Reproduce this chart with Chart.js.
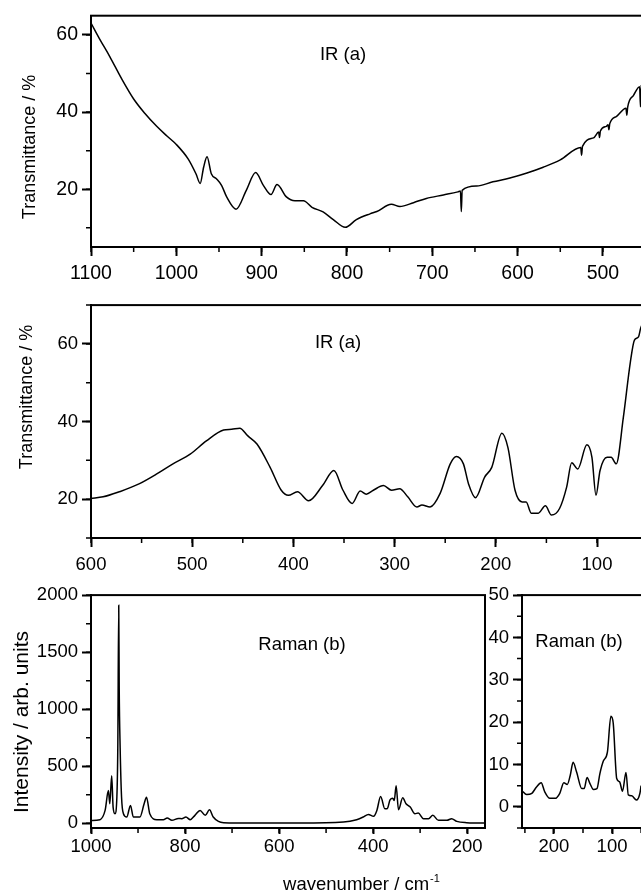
<!DOCTYPE html>
<html>
<head>
<meta charset="utf-8">
<script src="https://cdn.jsdelivr.net/npm/chart.js@4/dist/chart.umd.min.js"></script>
<style>
  html, body { margin: 0; padding: 0; background: #fff; overflow: hidden; }
  #page { position: relative; width: 641px; height: 894px; overflow: hidden; background: #fff; }
  #page canvas { position: absolute; }
</style>
</head>
<body>
<div id="page">
  <canvas id="irHigh" width="660" height="290" style="left:0;top:0"></canvas>
  <canvas id="irLow" width="660" height="290" style="left:0;top:290px"></canvas>
  <canvas id="ramanWide" width="500" height="314" style="left:0;top:580px"></canvas>
  <canvas id="ramanLow" width="180" height="314" style="left:470px;top:580px"></canvas>
</div>
<script>
// IR spectrum, 1100 - 455 cm-1
const irHighX = [1100, 1090, 1078, 1064, 1050, 1037, 1023, 1011, 1000, 986, 977, 972, 968, 964, 959, 953, 947, 941, 930, 918,
  907, 898, 889, 882, 871, 861, 851, 841, 828, 816, 802, 789, 773, 765, 748, 738, 722, 707, 687, 670,
  667, 666, 665, 648, 629, 609, 589, 570, 550, 526, 525, 524, 511, 505, 504, 503, 496, 494, 493, 492,
  484, 473, 472, 471, 464, 457, 456, 455];
const irHighY = [63.1, 59.0, 54.4, 48.6, 43.4, 39.7, 36.3, 33.8, 31.6, 27.8, 24.0, 21.5, 25.7, 28.4, 24.0, 22.7, 21.0, 18.0, 14.8, 19.7,
  24.3, 21.0, 18.6, 21.2, 18.0, 17.0, 17.0, 15.3, 14.1, 12.1, 10.1, 12.1, 13.6, 14.2, 16.1, 15.5, 16.5, 17.6, 18.5, 19.3,
  19.5, 14.2, 19.7, 20.8, 21.9, 22.9, 24.2, 25.7, 27.6, 30.8, 28.8, 31.1, 33.3, 34.8, 33.4, 35.1, 36.3, 36.7, 35.4, 37.0,
  38.9, 41.0, 39.2, 41.3, 44.4, 46.6, 41.4, 47.0];

// IR spectrum, 600 - 54 cm-1
const irLowX = [600, 588, 571, 560, 552, 535, 519, 502, 486, 469, 461, 453, 445, 436, 423, 412, 405, 396, 385, 371,
  360, 351, 342, 334, 328, 321, 311, 303, 295, 287, 278, 273, 265, 255, 245, 239, 232, 227, 220, 211,
  204, 194, 188, 181, 174, 170, 165, 158, 151, 145, 137, 130, 125, 119, 110, 105, 101, 97, 90, 86,
  81, 74, 67, 63, 59, 57, 54];
const irLowY = [20.2, 20.6, 22.0, 23.1, 24.0, 26.5, 29.1, 31.6, 35.0, 37.8, 38.0, 38.3, 36.3, 34.2, 28.2, 22.3, 21.0, 21.9, 19.6, 23.6,
  27.4, 22.3, 18.9, 22.1, 21.3, 22.3, 23.5, 22.3, 22.7, 20.6, 18.0, 18.5, 18.0, 21.5, 29.1, 31.0, 29.1, 24.0, 20.4, 25.7,
  28.2, 37.0, 33.3, 22.3, 19.3, 19.3, 16.4, 16.4, 18.3, 15.9, 17.6, 23.1, 29.4, 27.8, 34.0, 30.8, 21.0, 27.4, 30.8, 30.8,
  29.1, 41.0, 55.4, 61.0, 61.8, 63.9, 66.0];

// Raman spectrum, 1000 - 160 cm-1
const ramanWideX = [1000, 981, 970, 963, 960, 956, 953, 949, 945, 943, 941, 940, 938, 935, 931, 924, 916, 910, 896, 887,
  882, 875, 860, 846, 838, 828, 814, 807, 798, 789, 779, 768, 757, 748, 740, 729, 718, 650, 555, 463,
  435, 421, 410, 399, 392, 384, 375, 370, 364, 358, 355, 351, 346, 337, 330, 321, 311, 304, 293, 282,
  273, 261, 243, 233, 222, 201, 165, 160];
const ramanWideY = [25, 32, 113, 287, 171, 417, 142, 84, 229, 663, 1910, 1185, 663, 229, 84, 55, 157, 55, 55, 171,
  229, 84, 32, 32, 46, 26, 43, 41, 55, 32, 70, 113, 70, 119, 55, 17, 6, 3, 2, 11,
  32, 55, 78, 61, 113, 235, 128, 128, 206, 220, 200, 330, 119, 223, 171, 142, 84, 90, 41, 41,
  70, 26, 26, 41, 17, 6, 3, 3];

// Raman spectrum, 255 - 50 cm-1
const ramanLowX = [255, 247, 238, 230, 222, 216, 207, 198, 190, 183, 177, 172, 167, 161, 152, 148, 143, 138, 132, 126,
  121, 115, 108, 102, 98, 92, 87, 82, 76, 72, 66, 58, 52, 50];
const ramanLowY = [3.8, 2.9, 3.2, 4.7, 5.7, 3.6, 2.0, 2.0, 3.2, 5.7, 5.3, 7.4, 10.5, 8.2, 4.3, 4.3, 6.9, 5.5, 4.1, 4.3,
  7.8, 10.8, 12.9, 21.4, 19.8, 6.7, 5.9, 3.7, 8.1, 2.8, 2.6, 1.6, 3.2, 5.0];

// labelled tick values
const irHighXTicks = [1100, 1000, 900, 800, 700, 600, 500];
const irLowXTicks = [600, 500, 400, 300, 200, 100];
const irYTicks = [20, 40, 60];
const ramanWideXTicks = [1000, 800, 600, 400, 200];
const ramanWideYTicks = [0, 500, 1000, 1500, 2000];
const ramanLowXTicks = [200, 100];
const ramanLowYTicks = [0, 10, 20, 30, 40, 50];

const FONT = '"Liberation Sans", Arial, sans-serif';

// box around the plot area
const framePlugin = {
  id: 'frame',
  afterDatasetsDraw(chart) {
    const { ctx, chartArea: a } = chart;
    ctx.save();
    ctx.strokeStyle = '#000';
    ctx.lineWidth = 2;
    ctx.strokeRect(a.left, a.top, a.right - a.left, a.bottom - a.top);
    ctx.restore();
  }
};

// short unlabelled ticks between the labelled ones
function minorTicksPlugin(xStep, yStep) {
  return {
    id: 'minorTicks',
    afterDraw(chart) {
      const ctx = chart.ctx;
      ctx.save();
      ctx.strokeStyle = '#000';
      ctx.lineWidth = 1.5;
      const xs = chart.scales.x, ys = chart.scales.y;
      ctx.beginPath();
      for (let v = Math.ceil(xs.min / xStep) * xStep; v <= xs.max; v += xStep) {
        const p = xs.getPixelForValue(v);
        ctx.moveTo(p, xs.top);
        ctx.lineTo(p, xs.top + 5);
      }
      for (let v = Math.ceil(ys.min / yStep) * yStep; v <= ys.max; v += yStep) {
        const p = ys.getPixelForValue(v);
        ctx.moveTo(ys.right - 5, p);
        ctx.lineTo(ys.right, p);
      }
      ctx.stroke();
      ctx.restore();
    }
  };
}

// panel captions and axis titles
function captionsPlugin(items) {
  return {
    id: 'captions',
    afterDraw(chart) {
      const ctx = chart.ctx;
      for (const c of items) {
        ctx.save();
        ctx.fillStyle = '#000';
        ctx.font = c.size + 'px ' + FONT;
        ctx.translate(c.x, c.y);
        if (c.rotate) ctx.rotate(c.rotate);
        if (c.sup) {
          const w = ctx.measureText(c.text).width;
          ctx.font = Math.round(c.size * 0.62) + 'px ' + FONT;
          const ws = ctx.measureText(c.sup).width;
          const left = -(w + ws) / 2;
          ctx.textBaseline = 'alphabetic';
          ctx.textAlign = 'left';
          ctx.fillText(c.sup, left + w + 1, -c.size * 0.42);
          ctx.font = c.size + 'px ' + FONT;
          ctx.fillText(c.text, left, 0);
        } else {
          ctx.textAlign = 'center';
          ctx.textBaseline = 'middle';
          ctx.fillText(c.text, 0, 0);
        }
        ctx.restore();
      }
    }
  };
}

function axis(cfg, which) {
  const isX = which === 'x';
  const list = isX ? cfg.xTicks : cfg.yTicks;
  return {
    type: 'linear',
    reverse: isX,
    min: isX ? cfg.xMin : cfg.yMin,
    max: isX ? cfg.xMax : cfg.yMax,
    afterBuildTicks: s => { s.ticks = list.map(v => ({ value: v })); },
    afterFit: s => { if (isX) s.height = cfg.xHeight; else s.width = cfg.yWidth; },
    ticks: {
      color: '#000',
      font: { family: FONT, size: cfg.tickSize },
      padding: isX ? cfg.xPad : 4,
      autoSkip: false,
      maxRotation: 0,
      callback: v => String(v)
    },
    grid: {
      drawOnChartArea: false,
      drawTicks: true,
      tickLength: isX ? cfg.xTickLen : 9,
      tickColor: '#000',
      tickWidth: 2
    },
    border: { display: true, color: '#000', width: 2 }
  };
}

function spectrum(id, xs, ys, cfg) {
  return new Chart(document.getElementById(id), {
    type: 'line',
    data: {
      datasets: [{
        data: xs.map((x, i) => ({ x, y: ys[i] })),
        borderColor: '#000',
        borderWidth: 1.5,
        pointRadius: 0,
        cubicInterpolationMode: 'monotone',
        fill: false
      }]
    },
    options: {
      responsive: false,
      animation: false,
      events: [],
      layout: { padding: cfg.padding },
      plugins: { legend: { display: false }, tooltip: { enabled: false } },
      scales: { x: axis(cfg, 'x'), y: axis(cfg, 'y') }
    },
    plugins: [framePlugin, minorTicksPlugin(cfg.xMinor, cfg.yMinor), captionsPlugin(cfg.captions)]
  });
}

spectrum('irHigh', irHighX, irHighY, {
  xMin: 450, xMax: 1100, yMin: 5, yMax: 65,
  xTicks: irHighXTicks, yTicks: irYTicks, xMinor: 50, yMinor: 10,
  padding: { left: 0, top: 12, right: 14.4, bottom: 0 },
  yWidth: 91, xHeight: 43, xTickLen: 9, xPad: 6, tickSize: 19.5,
  captions: [
    { text: 'IR (a)', x: 343, y: 55, size: 18.5 },
    { text: 'Transmittance / %', x: 30, y: 147, size: 18, rotate: -Math.PI / 2 }
  ]
});

spectrum('irLow', irLowX, irLowY, {
  xMin: 50, xMax: 600, yMin: 10, yMax: 70,
  xTicks: irLowXTicks, yTicks: irYTicks, xMinor: 50, yMinor: 10,
  padding: { left: 0, top: 12, right: 12.4, bottom: 0 },
  yWidth: 91, xHeight: 42, xTickLen: 9, xPad: 7, tickSize: 18.5,
  captions: [
    { text: 'IR (a)', x: 338, y: 53, size: 18.5 },
    { text: 'Transmittance / %', x: 27, y: 107, size: 18, rotate: -Math.PI / 2 }
  ]
});

spectrum('ramanWide', ramanWideX, ramanWideY, {
  xMin: 162, xMax: 1000, yMin: -41, yMax: 2000,
  xTicks: ramanWideXTicks, yTicks: ramanWideYTicks, xMinor: 100, yMinor: 250,
  padding: { left: 0, top: 13, right: 15, bottom: 0 },
  yWidth: 91, xHeight: 66, xTickLen: 6, xPad: 2, tickSize: 18.5,
  captions: [
    { text: 'Raman (b)', x: 302, y: 65, size: 18.5 },
    { text: 'Intensity / arb. units', x: 22, y: 142, size: 21, rotate: -Math.PI / 2 },
    { text: 'wavenumber / cm', sup: '-1', x: 361, y: 310, size: 18.5 }
  ]
});

spectrum('ramanLow', ramanLowX, ramanLowY, {
  xMin: 45, xMax: 255, yMin: -5, yMax: 50,
  xTicks: ramanLowXTicks, yTicks: ramanLowYTicks, xMinor: 50, yMinor: 5,
  padding: { left: 0, top: 12, right: 6, bottom: 0 },
  yWidth: 52, xHeight: 66, xTickLen: 6, xPad: 2, tickSize: 18.5,
  captions: [
    { text: 'Raman (b)', x: 109, y: 62, size: 18.5 }
  ]
});
</script>
</body>
</html>
